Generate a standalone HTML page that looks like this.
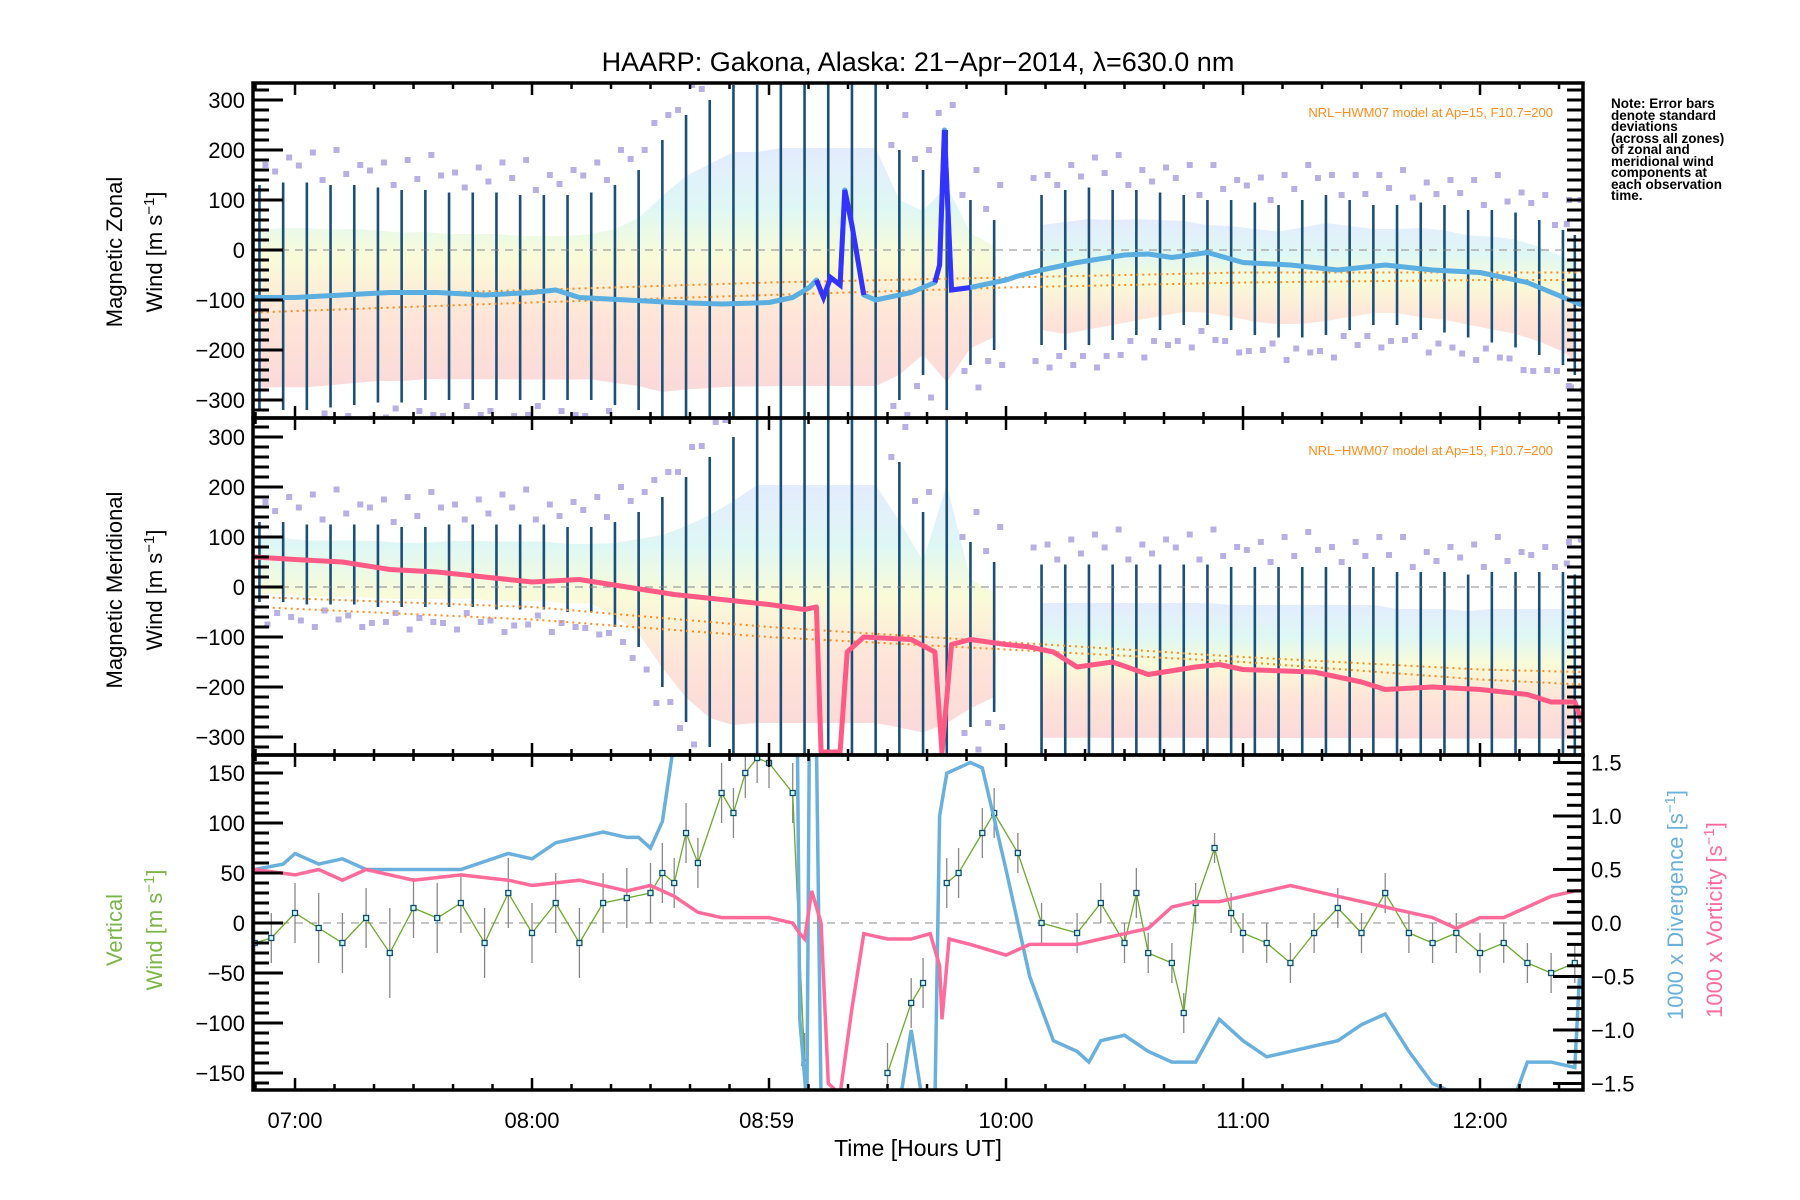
<!DOCTYPE html>
<html><head><meta charset="utf-8"><style>
html,body{margin:0;padding:0;background:#fff;}
svg{display:block;font-family:"Liberation Sans",sans-serif;}
</style></head><body>
<svg id="chart" width="1800" height="1200" viewBox="0 0 1800 1200" xmlns="http://www.w3.org/2000/svg">
<defs>
<clipPath id="c1"><rect x="253" y="83" width="1330" height="335"/></clipPath>
<clipPath id="c2"><rect x="253" y="418" width="1330" height="337"/></clipPath>
<clipPath id="c3"><rect x="253" y="755" width="1330" height="335"/></clipPath>
<linearGradient id="rb" x1="0" y1="0" x2="0" y2="1">
<stop offset="0" stop-color="#c8d8ff"/><stop offset="0.25" stop-color="#bff0e8"/><stop offset="0.45" stop-color="#f4f7b0"/><stop offset="0.7" stop-color="#ffc9b0"/><stop offset="1" stop-color="#f6b4b4"/>
</linearGradient>
</defs>
<text x="918" y="71" font-size="27" text-anchor="middle">HAARP: Gakona,  Alaska: 21−Apr−2014, λ=630.0 nm</text>
<text transform="translate(122,252) rotate(-90)" font-size="22" text-anchor="middle">Magnetic Zonal</text>
<text transform="translate(162,252) rotate(-90)" font-size="22" text-anchor="middle">Wind [m s<tspan dy="-8" font-size="15">−1</tspan><tspan dy="8">]</tspan></text>
<text transform="translate(122,590) rotate(-90)" font-size="22" text-anchor="middle">Magnetic Meridional</text>
<text transform="translate(162,590) rotate(-90)" font-size="22" text-anchor="middle">Wind [m s<tspan dy="-8" font-size="15">−1</tspan><tspan dy="8">]</tspan></text>
<text transform="translate(122,930) rotate(-90)" font-size="22" fill="#7ab648" text-anchor="middle">Vertical</text>
<text transform="translate(162,930) rotate(-90)" font-size="22" fill="#7ab648" text-anchor="middle">Wind [m s<tspan dy="-8" font-size="15">−1</tspan><tspan dy="8">]</tspan></text>
<text transform="translate(1683,905) rotate(-90)" font-size="22" fill="#6ab0dc" text-anchor="middle">1000 x Divergence [s<tspan dy="-8" font-size="15">−1</tspan><tspan dy="8">]</tspan></text>
<text transform="translate(1722,920) rotate(-90)" font-size="22" fill="#ff6b9a" text-anchor="middle">1000 x Vorticity [s<tspan dy="-8" font-size="15">−1</tspan><tspan dy="8">]</tspan></text>
<text x="918" y="1156" font-size="23" text-anchor="middle">Time [Hours UT]</text>
<text x="1553" y="117" font-size="13" fill="#ff8c1a" text-anchor="end">NRL−HWM07 model at Ap=15, F10.7=200</text>
<text x="1553" y="455" font-size="13" fill="#ff8c1a" text-anchor="end">NRL−HWM07 model at Ap=15, F10.7=200</text>
<g font-size="13.5" font-weight="bold">
<text x="1611" y="108">Note: Error bars</text><text x="1611" y="120">denote standard</text><text x="1611" y="131">deviations</text><text x="1611" y="143">(across all zones)</text><text x="1611" y="154">of zonal and</text><text x="1611" y="166">meridional wind</text><text x="1611" y="177">components at</text><text x="1611" y="189">each observation</text><text x="1611" y="200">time.</text>
</g>
<g id="g1" clip-path="url(#c1)"></g>
<g id="g2" clip-path="url(#c2)"></g>
<g id="g3" clip-path="url(#c3)"></g>
<g id="axes"></g>
</svg>
<script>
// ---- data ----
const barT = [6.85,6.95,7.05,7.15,7.25,7.35,7.45,7.55,7.65,7.75,7.85,7.95,8.05,8.15,8.25,8.35,8.45,8.55,8.65,8.75,8.85,8.95,9.05,9.15,9.25,9.35,9.45,9.55,9.65,9.75,9.85,9.95,
 10.15,10.25,10.35,10.45,10.55,10.65,10.75,10.85,10.95,11.05,11.15,11.25,11.35,11.45,11.55,11.65,11.75,11.85,11.95,12.05,12.15,12.25,12.35,12.4];
const zHi = [130,135,135,130,130,125,120,120,115,115,115,110,110,110,115,130,160,220,270,300,330,330,340,340,340,340,340,200,160,240,100,60,
 110,120,125,120,120,115,110,100,100,95,90,100,110,100,90,90,95,90,80,80,75,60,40,30];
const zLo = [-320,-320,-320,-315,-310,-305,-305,-300,-300,-300,-300,-300,-300,-300,-300,-310,-320,-340,-340,-340,-340,-340,-340,-340,-340,-340,-340,-300,-250,-320,-230,-200,
 -190,-200,-190,-180,-170,-160,-150,-150,-160,-170,-175,-175,-170,-160,-150,-150,-160,-165,-175,-185,-195,-210,-230,-250];
const mHi = [130,130,125,125,125,125,120,120,125,125,125,125,125,120,120,130,150,180,220,260,300,340,340,340,340,340,340,250,150,340,90,50,
 45,45,45,45,45,45,45,45,40,40,40,40,40,40,40,30,30,30,25,30,30,30,30,25];
const mLo = [-30,-30,-35,-35,-35,-40,-40,-40,-40,-40,-45,-45,-45,-50,-50,-80,-120,-200,-270,-320,-340,-340,-340,-340,-340,-340,-340,-340,-340,-340,-280,-250,
 -340,-340,-340,-340,-340,-340,-340,-340,-340,-340,-340,-340,-340,-340,-340,-340,-340,-340,-340,-340,-340,-340,-340,-340];
const zT = [6.83,7.0,7.2,7.4,7.6,7.8,8.0,8.1,8.2,8.4,8.6,8.8,9.0,9.1,9.17,9.2,9.23,9.26,9.3,9.32,9.35,9.4,9.45,9.6,9.7,9.72,9.74,9.77,9.85,10.0,10.05,10.15,10.3,10.5,10.6,10.7,10.85,11.0,11.2,11.4,11.6,11.8,12.0,12.2,12.43];
const zMean = [-95,-95,-90,-85,-85,-90,-85,-80,-95,-100,-105,-108,-105,-95,-75,-60,-95,-55,-70,120,50,-90,-100,-85,-65,-30,240,-80,-75,-60,-52,-40,-25,-10,-8,-15,-5,-25,-30,-40,-30,-40,-45,-65,-110];
const mT = [6.83,7.0,7.2,7.4,7.6,7.8,8.0,8.2,8.4,8.6,8.8,9.0,9.15,9.2,9.22,9.3,9.33,9.4,9.6,9.7,9.73,9.77,9.85,10.0,10.1,10.2,10.3,10.45,10.6,10.8,10.9,11.0,11.3,11.5,11.6,11.8,12.0,12.2,12.3,12.4,12.43];
const mMean = [60,55,50,35,30,20,10,15,0,-15,-25,-35,-45,-40,-330,-330,-130,-100,-105,-130,-330,-115,-105,-115,-120,-130,-160,-150,-175,-160,-155,-165,-170,-190,-205,-200,-205,-215,-230,-230,-270];
const modT = [6.83,8.0,9.0,10.0,11.0,12.0,12.43];
const zModA = [-125,-105,-90,-75,-65,-60,-60];
const zModB = [-95,-80,-65,-55,-45,-45,-45];
const mModA = [-20,-40,-80,-110,-140,-165,-170];
const mModB = [-40,-65,-100,-125,-150,-185,-195];
const wT = [6.83,6.9,7.0,7.1,7.2,7.3,7.4,7.5,7.6,7.7,7.8,7.9,8.0,8.1,8.2,8.3,8.4,8.5,8.55,8.6,8.65,8.7,8.8,8.85,8.9,8.95,9.0,9.1,9.15,9.2,9.5,9.6,9.65,9.72,9.75,9.8,9.9,9.95,10.05,10.15,10.3,10.4,10.5,10.55,10.6,10.7,10.75,10.8,10.88,10.95,11.0,11.1,11.2,11.3,11.4,11.5,11.6,11.7,11.8,11.9,12.0,12.1,12.2,12.3,12.4];
const wVal = [-20,-15,10,-5,-20,5,-30,15,5,20,-20,30,-10,20,-20,20,25,30,50,40,90,60,130,110,150,165,160,130,-140,null,-150,-80,-60,null,40,50,90,110,70,0,-10,20,-20,30,-30,-40,-90,20,75,10,-10,-20,-40,-10,15,-10,30,-10,-20,-10,-30,-20,-40,-50,-40];
const wErr = [30,25,30,35,30,30,45,30,35,30,35,35,30,30,35,30,30,30,30,25,30,25,30,25,25,25,25,30,30,0,30,25,25,0,25,25,25,25,20,20,20,20,20,25,20,20,20,20,15,20,20,20,20,20,20,20,20,20,20,20,20,20,20,20,20];
const dT = [6.83,6.95,7.0,7.1,7.2,7.3,7.5,7.7,7.9,8.0,8.1,8.2,8.3,8.4,8.45,8.5,8.55,8.6,9.12,9.13,9.16,9.17,9.2,9.22,null,9.55,9.6,9.65,null,9.7,9.72,9.75,9.85,9.9,10.0,10.1,10.2,10.3,10.35,10.4,10.5,10.6,10.7,10.8,10.9,11.0,11.1,11.2,11.3,11.4,11.5,11.6,11.7,11.8,11.9,null,12.15,12.2,12.3,12.4,12.42];
const dVal = [0.5,0.55,0.65,0.55,0.6,0.5,0.5,0.5,0.65,0.6,0.75,0.8,0.85,0.8,0.8,0.7,0.95,1.7,1.7,-0.9,-1.7,1.7,1.7,-1.7,null,-1.7,-1.0,-1.7,null,-1.7,1.0,1.4,1.5,1.45,0.5,-0.5,-1.1,-1.2,-1.3,-1.1,-1.05,-1.2,-1.3,-1.3,-0.9,-1.1,-1.25,-1.2,-1.15,-1.1,-0.95,-0.85,-1.2,-1.5,-1.6,null,-1.6,-1.3,-1.3,-1.35,-0.5];
const vT = [6.83,7.0,7.1,7.2,7.3,7.5,7.7,7.9,8.0,8.2,8.4,8.5,8.6,8.7,8.8,9.0,9.1,9.13,9.15,9.18,9.22,9.25,9.3,9.35,9.4,9.5,9.6,9.68,9.72,9.73,9.76,9.85,10.0,10.1,10.3,10.4,10.5,10.6,10.7,10.8,10.9,11.0,11.1,11.2,11.3,11.4,11.5,11.6,11.7,11.8,11.9,12.0,12.1,12.2,12.3,12.4,12.43];
const vVal = [0.5,0.45,0.5,0.4,0.5,0.4,0.45,0.4,0.35,0.4,0.3,0.35,0.25,0.1,0.05,0.05,0.0,-0.1,-0.15,0.3,0.0,-1.5,-1.6,-0.8,-0.1,-0.15,-0.15,-0.1,-0.4,-0.9,-0.15,-0.2,-0.3,-0.2,-0.2,-0.15,-0.1,-0.05,0.15,0.2,0.2,0.25,0.3,0.35,0.3,0.25,0.2,0.15,0.1,0.05,-0.05,0.05,0.05,0.15,0.25,0.3,0.3];
const xTickVals = [7,8,8.99,10,11,12];
const xTickLabels = ['07:00','08:00','08:59','10:00','11:00','12:00'];
const windTicks = [300,200,100,0,-100,-200,-300];
const vertTicks = [150,100,50,0,-50,-100,-150];
const rightTicks = [1.5,1.0,0.5,0.0,-0.5,-1.0,-1.5];

// ---- scales ----
const NS='http://www.w3.org/2000/svg';
const L=253,R=1583;
function X(t){return 295+(t-7)*237;}
function Y1(v){return 250-v*0.5;}
function Y2(v){return 587-v*0.5;}
function Y3(w){return 923-w;}
function Y3r(v){return 923-v*107;}
function mk(tag,at,par){const e=document.createElementNS(NS,tag);for(const k in at)e.setAttribute(k,at[k]);par.appendChild(e);return e;}
function pathFrom(ts,vs,Y){let d='',pen=false;for(let i=0;i<ts.length;i++){if(ts[i]===null||vs[i]===null){pen=false;continue;}d+=(pen?'L':'M')+X(ts[i]).toFixed(1)+','+Y(vs[i]).toFixed(1);pen=true;}return d;}

function windPanel(g,hi,lo,Y,meanT,mean,meanColor,modA,modB,key){
  const segs=[[0,32],[32,barT.length]];
  segs.forEach(s=>{let top='',bot='';for(let i=s[0];i<s[1];i++){top+=(i===s[0]?'M':'L')+X(barT[i])+','+Y(hi[i]*0.8+lo[i]*0.2);}
    for(let i=s[1]-1;i>=s[0];i--){bot+='L'+X(barT[i])+','+Y(lo[i]*0.9+hi[i]*0.1);}
    const b=mk('path',{d:top+bot+'Z',fill:'url(#rb)',opacity:'0.5'},g);
    
    });
  for(let i=0;i<barT.length;i++){
    const bar=mk('line',{x1:X(barT[i]),x2:X(barT[i]),y1:Y(hi[i]),y2:Y(lo[i]),stroke:'#1c4f78','stroke-width':'2.6'},g);
    
    
    [hi[i]+10+(i%3)*12,hi[i]+40+(i%4)*10,lo[i]-12-(i%3)*10,lo[i]-45+(i%2)*15].forEach((v,j)=>{
      const sq=mk('rect',{x:X(barT[i])-3+[-8,6,-6,8][j],y:Y(v)-3,width:6,height:6,fill:'#b8b0e4'},g);
      
      });
  }
  [modA,modB].forEach(m=>{const ml=mk('path',{d:pathFrom(modT,m,Y),fill:'none',stroke:'#ff8c1a','stroke-width':'2','stroke-dasharray':'2 4'},g);
    
    });
  const z=mk('line',{x1:L,x2:R,y1:Y(0),y2:Y(0),stroke:'#888','stroke-dasharray':'8 6','stroke-width':'1'},g);
  
  
  const ln=mk('path',{d:pathFrom(meanT,mean,Y),fill:'none',stroke:meanColor,'stroke-width':'5','stroke-linejoin':'round'},g);
  
  
}
windPanel(document.getElementById('g1'),zHi,zLo,Y1,zT,zMean,'#5aaee0',zModA,zModB,'zonal');
windPanel(document.getElementById('g2'),mHi,mLo,Y2,mT,mMean,'#ff5a85',mModA,mModB,'meridional');

// darker spike segments of zonal mean
const g1=document.getElementById('g1');
const zSpikeIdx=[[15,21],[24,28]];
zSpikeIdx.forEach(r=>{const sp=mk('path',{d:pathFrom(zT.slice(r[0],r[1]+1),zMean.slice(r[0],r[1]+1),Y1),fill:'none',stroke:'#3333ff','stroke-width':'5'},g1);
  
  });

// panel 3
const g3=document.getElementById('g3');
const z3=mk('line',{x1:L,x2:R,y1:Y3(0),y2:Y3(0),stroke:'#888','stroke-dasharray':'8 6','stroke-width':'1'},g3);


for(let i=0;i<wT.length;i++){if(wVal[i]===null)continue;
  const eb=mk('line',{x1:X(wT[i]),x2:X(wT[i]),y1:Y3(wVal[i]+wErr[i]),y2:Y3(wVal[i]-wErr[i]),stroke:'#888','stroke-width':'1.3'},g3);
  
  }
const wl=mk('path',{d:pathFrom(wT,wVal,Y3),fill:'none',stroke:'#6aaa2a','stroke-width':'1.3'},g3);


for(let i=0;i<wT.length;i++){if(wVal[i]===null)continue;
  const p=mk('rect',{x:X(wT[i])-2.5,y:Y3(wVal[i])-2.5,width:5,height:5,fill:'#cfe',stroke:'#154a70','stroke-width':'1.3'},g3);
  
  }
const dl=mk('path',{d:pathFrom(dT,dVal,Y3r),fill:'none',stroke:'#6ab0dc','stroke-width':'3.5'},g3);


const vl=mk('path',{d:pathFrom(vT,vVal,Y3r),fill:'none',stroke:'#ff6b9a','stroke-width':'3.5'},g3);



// axes
const ax=document.getElementById('axes');
[[83,418],[418,755],[755,1090]].forEach(p=>{
  const fr=mk('rect',{x:L,y:p[0],width:R-L,height:p[1]-p[0],fill:'none',stroke:'#000','stroke-width':'3.5'},ax);
  
  
  for(let t=6.8334;t<12.44;t+=1/6){const hr=Math.abs(t-Math.round(t))<0.01;const len=hr?12:6;
    const a=mk('line',{x1:X(t),x2:X(t),y1:p[0],y2:p[0]+len,stroke:'#000','stroke-width':'2.5'},ax);
    
    
    const b=mk('line',{x1:X(t),x2:X(t),y1:p[1],y2:p[1]-len,stroke:'#000','stroke-width':'2.5'},ax);
    
    }
});
xTickVals.forEach((t,i)=>{const tx=mk('text',{x:X(t),y:1128,'font-size':'22','text-anchor':'middle'},ax);tx.textContent=xTickLabels[i];
  
  });
function yAxis(Y,ticks,minorStep,lo,hi,side,fmt){
  const x0=side==='l'?L:R, dir=side==='l'?1:-1;
  for(let v=lo;v<=hi+1e-9;v+=minorStep){const y=Y(v);
    const tk=mk('line',{x1:x0,x2:x0+dir*16,y1:y,y2:y,stroke:'#000','stroke-width':'3'},ax);
    
    }
  ticks.forEach(v=>{const y=Y(v);
    const tk=mk('line',{x1:x0,x2:x0+dir*30,y1:y,y2:y,stroke:'#000','stroke-width':'3'},ax);
    
    
    const tx=mk('text',{x:side==='l'?x0-8:x0+8,y:y+8,'font-size':'22','text-anchor':side==='l'?'end':'start'},ax);
    tx.textContent=fmt(v);
    
    });
}
const fi=v=>(v<0?'−':'')+Math.abs(v);
yAxis(Y1,windTicks,20,-320,320,'l',fi);
yAxis(Y1,[],20,-320,320,'r',fi);
yAxis(Y2,windTicks,20,-320,320,'l',fi);
yAxis(Y2,[],20,-320,320,'r',fi);
yAxis(Y3,vertTicks,10,-160,160,'l',fi);
yAxis(Y3r,rightTicks,0.1,-1.5,1.5,'r',v=>(v<0?'−':'')+Math.abs(v).toFixed(1));
</script>
</body></html>
